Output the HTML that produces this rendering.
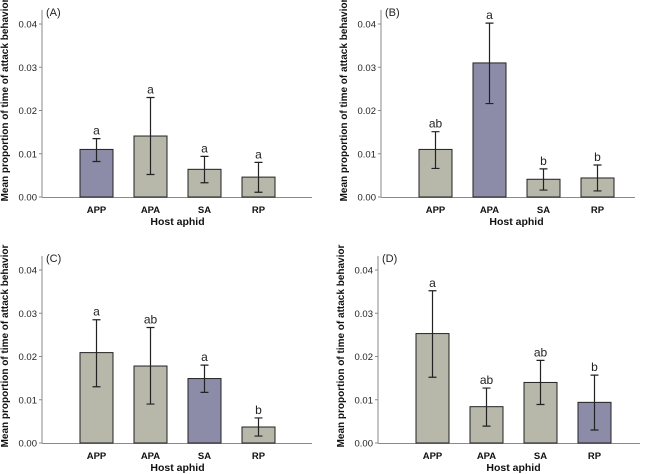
<!DOCTYPE html>
<html><head><meta charset="utf-8"><style>
body{margin:0;background:#fff;width:649px;height:474px;overflow:hidden}
svg{display:block;font-family:"Liberation Sans",Arial,sans-serif}
</style></head><body>
<svg id="chart" width="649" height="474"></svg>
<script>
const categories=["APP","APA","SA","RP"];
const panelLabels=["(A)","(B)","(C)","(D)"];
const meansA=[0.011,0.0141,0.0064,0.0046];
const lowA=[0.0082,0.0052,0.0033,0.0011];
const highA=[0.0135,0.023,0.0094,0.008];
const lettersA=["a","a","a","a"];
const meansB=[0.011,0.031,0.0041,0.0044];
const lowB=[0.0066,0.0216,0.0016,0.0014];
const highB=[0.0151,0.0402,0.0065,0.0074];
const lettersB=["ab","a","b","b"];
const meansC=[0.0209,0.0178,0.0149,0.0037];
const lowC=[0.013,0.009,0.0117,0.0016];
const highC=[0.0285,0.0267,0.018,0.0058];
const lettersC=["a","ab","a","b"];
const meansD=[0.0253,0.0084,0.014,0.0094];
const lowD=[0.0152,0.0039,0.0089,0.003];
const highD=[0.0352,0.0127,0.0191,0.0157];
const lettersD=["a","ab","ab","b"];
const highlight=[0,1,2,3];
const yTicks=[0,0.01,0.02,0.03,0.04];
const yTickLabels=["0.00","0.01","0.02","0.03","0.04"];

const NS="http://www.w3.org/2000/svg";
const svg=document.getElementById('chart');
function mk(tag,attrs,parent,text){const e=document.createElementNS(NS,tag);for(const k in attrs)e.setAttribute(k,attrs[k]);if(text!==undefined)e.textContent=text;(parent||svg).appendChild(e);return e;}

const panels=[
 {ox:0,oy:0,means:meansA,low:lowA,high:highA,letters:lettersA,axisX:42,zeroY:197,endX:312},
 {ox:0,oy:0,means:meansB,low:lowB,high:highB,letters:lettersB,axisX:381,zeroY:197,endX:635},
 {ox:0,oy:0,means:meansC,low:lowC,high:highC,letters:lettersC,axisX:42,zeroY:443,endX:312},
 {ox:0,oy:0,means:meansD,low:lowD,high:highD,letters:lettersD,axisX:378,zeroY:443,endX:640}
];
const pxPer=173/0.04;
panels.forEach((p,pi)=>{
  const g=mk('g',{});
  
  
  const y=v=>p.zeroY-v*pxPer;
  const barStart=p.axisX+38, step=54, bw=33;
  const x=i=>barStart+i*step;
  // axes
  const ya=mk('line',{x1:p.axisX,y1:y(0),x2:p.axisX,y2:y(0)-187,stroke:'#8a8a8a','stroke-width':1},g);
  
  const xa=mk('line',{x1:p.axisX,y1:y(0)+0.5,x2:p.endX,y2:y(0)+0.5,stroke:'#8a8a8a','stroke-width':1},g);
  
  yTicks.forEach((t,ti)=>{
    mk('line',{x1:p.axisX-3,y1:y(t),x2:p.axisX,y2:y(t),stroke:'#8a8a8a'},g);
    const tl=mk('text',{x:p.axisX-5,y:y(t)+3.5,'text-anchor':'end','font-size':9.5,fill:'#222'},g,yTickLabels[ti]);
    
  });
  const pl=mk('text',{x:p.axisX+4,y:y(0)-181,'font-size':11,fill:'#222'},g,panelLabels[pi]);
  
  const yt=mk('text',{transform:`translate(${p.axisX-34},${y(0)-97}) rotate(-90)`,'text-anchor':'middle','font-size':10,'font-weight':'bold',fill:'#111'},g,'Mean proportion of time of attack behavior');
  
  const xt=mk('text',{x:barStart+1.5*step+bw/2,y:y(0)+28,'text-anchor':'middle','font-size':10.5,'font-weight':'bold',fill:'#111'},g,'Host aphid');
  
  categories.forEach((c,i)=>{
    const cx=x(i)+bw/2;
    const b=mk('rect',{x:x(i),y:y(p.means[i]),width:bw,height:y(0)-y(p.means[i]),fill:i===highlight[pi]?'#8c8ca8':'#b7b7aa',stroke:'#222','stroke-width':1},g);
    
    const e=mk('path',{d:`M${cx},${y(p.low[i])}V${y(p.high[i])}M${cx-4},${y(p.low[i])}H${cx+4}M${cx-4},${y(p.high[i])}H${cx+4}`,stroke:'#222','stroke-width':1.2,fill:'none'},g);
    
    const l=mk('text',{x:cx,y:y(p.high[i])-4,'text-anchor':'middle','font-size':12,fill:'#222'},g,p.letters[i]);
    
    const cl=mk('text',{x:cx,y:y(0)+16,'text-anchor':'middle','font-size':9.5,'font-weight':'bold',fill:'#111'},g,c);
    
  });
});
</script>
</body></html>
